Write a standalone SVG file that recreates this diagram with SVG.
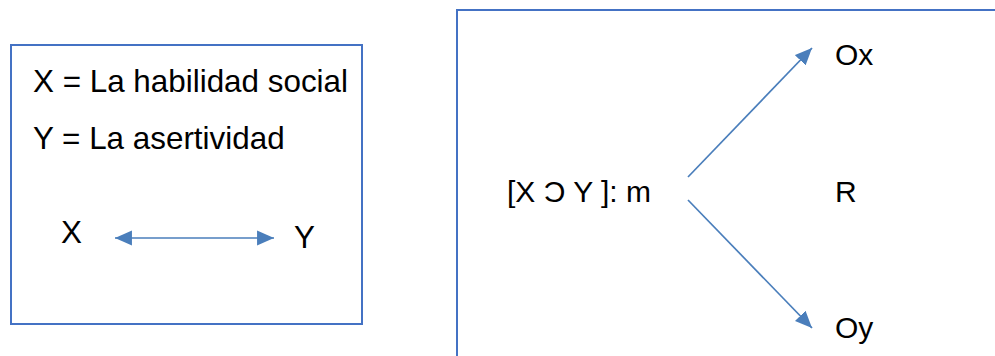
<svg xmlns="http://www.w3.org/2000/svg" width="995" height="356" viewBox="0 0 995 356">
<style>
.box{fill:none;stroke:#4472C4;stroke-width:2}
.t{font-family:"Liberation Sans",Arial,sans-serif;font-size:30px;fill:#000}
.tl{font-size:31.4px}
.c{stroke:#4A7EBB;stroke-width:1.7;fill:none}
</style>
<defs>
<marker id="ah" markerUnits="userSpaceOnUse" markerWidth="18" markerHeight="16" refX="16" refY="7" orient="auto-start-reverse" viewBox="0 0 17 14">
<path d="M0,0 L16,7 L0,14 Z" fill="#4A7EBB"/>
</marker>
</defs>
<g id="left-box">
<rect class="box" x="11" y="45" width="351" height="279"/>
<text class="t tl" x="33" y="92">X = La habilidad social</text>
<text class="t tl" x="33" y="149">Y = La asertividad</text>
</g>
<g id="node-x"><text class="t tl" x="61" y="243">X</text></g>
<g id="node-y"><text class="t tl" x="294" y="248">Y</text></g>
<g id="right-box">
<path class="box" d="M457,357 L457,10 L1000,10"/>
</g>
<g id="node-m"><text class="t" x="507" y="202">[X Ɔ Y ]: m</text></g>
<g id="node-ox"><text class="t" x="835" y="65">Ox</text></g>
<g id="node-r"><text class="t" x="835" y="202">R</text></g>
<g id="node-oy"><text class="t" x="835" y="338">Oy</text></g>
<g id="connectors">
<line class="c" x1="115" y1="238" x2="274" y2="238" marker-start="url(#ah)" marker-end="url(#ah)"/>
<line class="c" x1="688" y1="177" x2="812" y2="48" marker-end="url(#ah)"/>
<line class="c" x1="688" y1="200" x2="812" y2="328" marker-end="url(#ah)"/>
</g>
</svg>
